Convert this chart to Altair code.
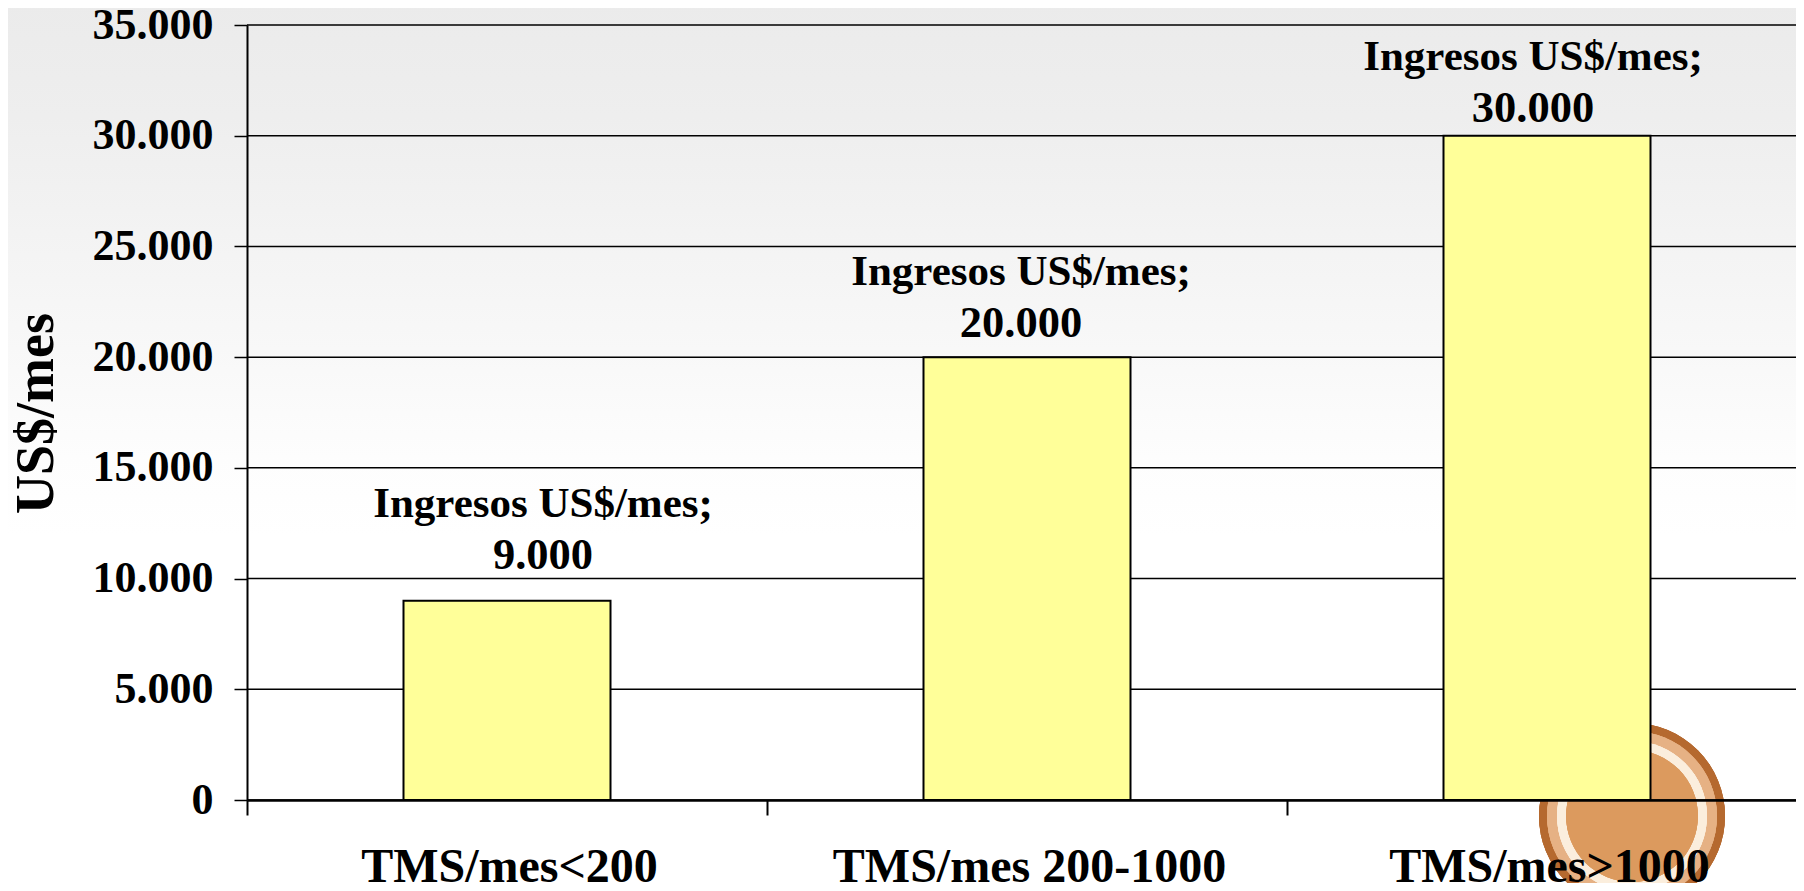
import altair as alt
import pandas as pd

categories = ["TMS/mes<200", "TMS/mes 200-1000", "TMS/mes>1000"]
ingresos = [9000, 20000, 30000]
series_name = "Ingresos US$/mes;"
value_labels = ["9.000", "20.000", "30.000"]
y_ticks = [0, 5000, 10000, 15000, 20000, 25000, 30000, 35000]

df = pd.DataFrame({"cat": categories, "v": ingresos, "name": series_name, "lab": value_labels})
grid_df = pd.DataFrame({"v": y_ticks})

SERIF = "Liberation Serif"
W, H = 1549, 775
x_enc = alt.X("cat:N", sort=categories,
              scale=alt.Scale(domain=categories, range=[0, 1560], paddingInner=0, paddingOuter=0),
              axis=alt.Axis(title=None, labelAngle=0, labelFont=SERIF, labelFontWeight="bold", labelFontSize=48,
                            labelColor="black", labelPadding=66, labelBaseline="alphabetic", labelOffset=2,
                            labelLimit=800, labelOverlap=False,
                            tickBand="extent", tickColor="black", tickWidth=2, tickSize=15,
                            domainColor="black", domainWidth=2.5, zindex=1))
y_enc = alt.Y("v:Q", scale=alt.Scale(domain=[0, 35000], nice=False),
              axis=alt.Axis(title="US$/mes", values=y_ticks,
                            labelExpr="replace(format(datum.value, ','), ',', '.')",
                            labelFont=SERIF, labelFontWeight="bold", labelFontSize=44, labelColor="black",
                            labelPadding=21, tickColor="black", tickSize=13, tickWidth=1.5,
                            domainColor="black", domainWidth=2, grid=False, zindex=1,
                            titleFont=SERIF, titleFontWeight="bold", titleFontSize=54, titleColor="black",
                            titleX=-184, titleY=388, titleAnchor="middle"))

# slide background: pale grey fading to white
bg = alt.Chart(df).mark_rect(
    color=alt.Gradient(gradient="linear", x1=0, x2=0, y1=0, y2=1,
                       stops=[alt.GradientStop(offset=0, color="#ebebeb"),
                              alt.GradientStop(offset=0.13, color="#eeeeee"),
                              alt.GradientStop(offset=0.26, color="#f3f3f3"),
                              alt.GradientStop(offset=0.39, color="#f8f8f8"),
                              alt.GradientStop(offset=0.51, color="#fdfdfd"),
                              alt.GradientStop(offset=0.6, color="#ffffff"),
                              alt.GradientStop(offset=1, color="#ffffff")])
).encode(x=alt.value(-247), x2=alt.value(1560), y=alt.value(-25), y2=alt.value(870))

# copper coin behind the third bar
def coin(size, colour):
    return alt.Chart(df).mark_point(filled=True, shape="circle", size=size, color=colour, opacity=1).encode(
        x=alt.value(1385), y=alt.value(791))
coin_layers = [coin(34600, "#b5692f"), coin(28900, "#e6b184"), coin(22500, "#fbeedd"), coin(17400, "#dc9a5e")]

grid = alt.Chart(grid_df).mark_rule(color="black", strokeWidth=1.5).encode(y=y_enc)

bars = alt.Chart(df).mark_bar(color="#ffff99", stroke="black", strokeWidth=2, width=207).encode(x=x_enc, y=y_enc)

offsets = {categories[0]: (36, -45), categories[1]: (-6, -33), categories[2]: (-14, -27)}
labels = []
for c, (dx, dy) in offsets.items():
    base = alt.Chart(df).transform_filter(alt.datum.cat == c)
    labels.append(base.mark_text(font=SERIF, fontWeight="bold", fontSize=43, color="black", dx=dx, dy=dy - 52,
                                 baseline="middle").encode(text="name:N", x=x_enc, y=y_enc))
    labels.append(base.mark_text(font=SERIF, fontWeight="bold", fontSize=44.5, color="black", dx=dx, dy=dy,
                                 baseline="middle").encode(text="lab:N", x=x_enc, y=y_enc))

chart = alt.layer(bg, *coin_layers, grid, bars, *labels).properties(
    width=W, height=H,
    autosize=alt.AutoSizeParams(type="none"),
    padding={"left": 239, "top": 17, "right": 0, "bottom": 83},
).configure_view(stroke=None).configure(background="#ffffff")

chart.save("out.html", embed_options={"renderer": "svg", "actions": False})
